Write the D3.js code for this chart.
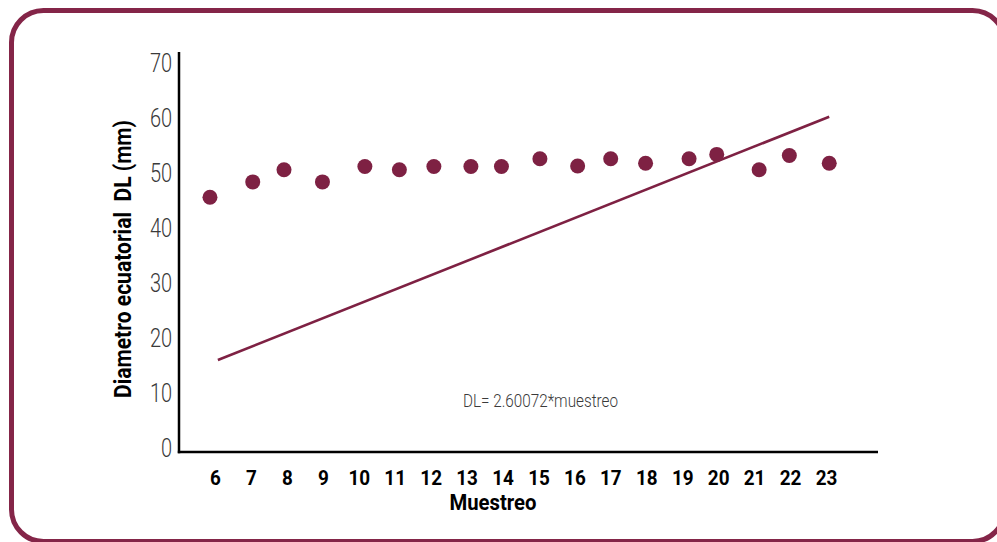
<!DOCTYPE html>
<html>
<head>
<meta charset="utf-8">
<script src="https://cdn.jsdelivr.net/npm/d3@7/dist/d3.min.js"></script>
<style>
  html, body { margin: 0; padding: 0; background: #ffffff; }
  svg { display: block; }
</style>
</head>
<body>
<svg id="chart" width="997" height="542"></svg>
<script>
// Sample numbers shown on the x axis
const muestreo = [6, 7, 8, 9, 10, 11, 12, 13, 14, 15, 16, 17, 18, 19, 20, 21, 22, 23];
// Horizontal placement of each measured sample along the muestreo axis
const muestreoPos = [5.86, 7.05, 7.92, 8.99, 10.17, 11.13, 12.09, 13.12, 13.97,
                     15.04, 16.09, 17.01, 17.98, 19.19, 19.96, 21.14, 21.98, 23.09];
// Equatorial diameter DL (mm) per sample
const diametro = [45.4, 48.2, 50.4, 48.2, 51.0, 50.4, 51.0, 51.0, 51.0,
                  52.4, 51.1, 52.4, 51.6, 52.4, 53.2, 50.4, 53.0, 51.6];
// Y axis tick values
const yTicks = [0, 10, 20, 30, 40, 50, 60, 70];
// Fitted trend: DL = 2.60072 * muestreo, over this muestreo span
const trendSlope = 2.60072;
const trendSpan = [6.08, 23.09];

const MAROON = "#7e2143";
const svg = d3.select("#chart");

// Rounded frame
svg.append("rect")
  .attr("x", 11.5).attr("y", 10.5)
  .attr("width", 993).attr("height", 531)
  .attr("rx", 32).attr("ry", 32)
  .attr("fill", "none")
  .attr("stroke", "#842548")
  .attr("stroke-width", 5);

const x = d3.scaleLinear().domain([6, 23]).range([215, 826]);
const y = d3.scaleLinear().domain([0, 70]).range([447, 62]);

const axisX0 = 179;          // y axis line position
const axisY0 = y(0) + 5;     // x axis line position

// Y axis labels
const gy = svg.append("g")
  .attr("transform", `translate(${axisX0},0)`)
  .call(d3.axisLeft(y).tickValues(yTicks).tickSize(0).tickFormat(d3.format("d")));
gy.select(".domain").remove();
gy.selectAll(".tick text")
  .attr("x", -8.5)
  .attr("dy", "0.36em")
  .attr("transform", "scale(0.8,1)")
  .attr("text-anchor", "end")
  .style("font-family", "Roboto, 'Liberation Sans', sans-serif")
  .style("font-weight", 300)
  .style("font-size", "25px")
  .attr("fill", "#3a3a3a");

// X axis labels
const gx = svg.append("g")
  .attr("transform", `translate(0,${axisY0})`)
  .call(d3.axisBottom(x).tickValues(muestreo).tickSize(0).tickFormat(d3.format("d")));
gx.select(".domain").remove();
gx.selectAll(".tick text")
  .attr("y", 33.5)
  .attr("dy", 0)
  .attr("transform", "scale(0.9,1)")
  .attr("text-anchor", "middle")
  .style("font-family", "Roboto, 'Liberation Sans', sans-serif")
  .style("font-weight", 700)
  .style("font-size", "21px")
  .attr("fill", "#000");

// Axis lines
svg.append("line")
  .attr("x1", axisX0).attr("x2", axisX0)
  .attr("y1", y(70) - 10).attr("y2", axisY0 + 1.2)
  .attr("stroke", "#000").attr("stroke-width", 2.5);
svg.append("line")
  .attr("x1", axisX0 - 1.2).attr("x2", 878)
  .attr("y1", axisY0).attr("y2", axisY0)
  .attr("stroke", "#000").attr("stroke-width", 2.5);

// Trend line
const trendPts = trendSpan.map(m => [m, trendSlope * m]);
svg.append("path")
  .datum(trendPts)
  .attr("d", d3.line().x(d => x(d[0])).y(d => y(d[1])))
  .attr("fill", "none")
  .attr("stroke", MAROON)
  .attr("stroke-width", 2.6);

// Points
svg.append("g")
  .selectAll("circle")
  .data(diametro.map((v, i) => ({ m: muestreoPos[i], v })))
  .join("circle")
  .attr("cx", d => x(d.m))
  .attr("cy", d => y(d.v))
  .attr("r", 7.5)
  .attr("fill", MAROON);

// Equation
svg.append("text")
  .attr("x", 463).attr("y", 407)
  .attr("textLength", 155)
  .attr("lengthAdjust", "spacingAndGlyphs")
  .style("font-family", "Roboto, 'Liberation Sans', sans-serif")
  .style("font-weight", 300)
  .style("font-size", "19px")
  .attr("fill", "#3a3a3a")
  .text("DL= 2.60072*muestreo");

// Axis titles
svg.append("text")
  .attr("x", 493).attr("y", 510)
  .attr("text-anchor", "middle")
  .attr("textLength", 87)
  .attr("lengthAdjust", "spacingAndGlyphs")
  .style("font-family", "Roboto, 'Liberation Sans', sans-serif")
  .style("font-weight", 700)
  .style("font-size", "22px")
  .attr("fill", "#000")
  .text("Muestreo");

svg.append("text")
  .attr("transform", "translate(131,259) rotate(-90)")
  .attr("text-anchor", "middle")
  .attr("textLength", 278)
  .attr("lengthAdjust", "spacingAndGlyphs")
  .style("white-space", "pre")
  .style("font-family", "Roboto, 'Liberation Sans', sans-serif")
  .style("font-weight", 700)
  .style("font-size", "23px")
  .attr("fill", "#000")
  .text("Diametro ecuatorial  DL (mm)");
</script>
</body>
</html>
